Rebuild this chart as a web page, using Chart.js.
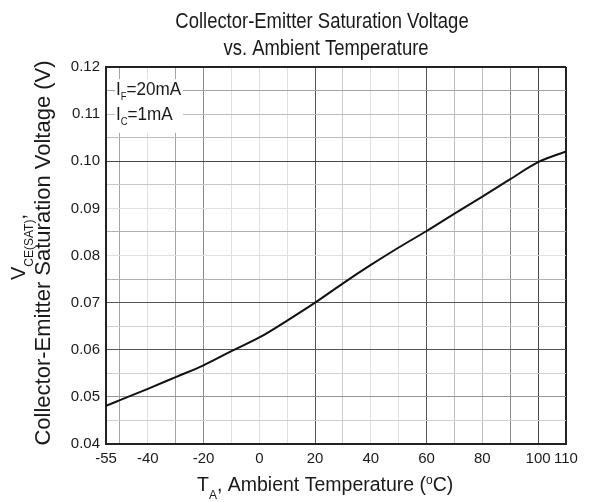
<!DOCTYPE html>
<html><head><meta charset="utf-8">
<script src="https://cdn.jsdelivr.net/npm/chart.js@4.4.1/dist/chart.umd.min.js"></script>
<style>html,body{margin:0;padding:0;background:#fff;} canvas{display:block;}</style>
</head><body>
<canvas id="c" width="592" height="502"></canvas>
<script>
// ---- data ----
const temperatures = [-55, -50, -40, -30, -20, -10, 0, 10, 20, 30, 40, 50, 60, 70, 80, 90, 100, 110];
const vceSat = [0.0481, 0.0493, 0.0517, 0.0542, 0.0567, 0.0597, 0.0626, 0.0662, 0.0700, 0.0741, 0.0780, 0.0817, 0.0852, 0.0889, 0.0925, 0.0962, 0.0998, 0.1021];
const xTickValues = [-55, -50, -40, -30, -20, -10, 0, 10, 20, 30, 40, 50, 60, 70, 80, 90, 100, 110];
const xTickLabels = ['-55', '-40', '-20', '0', '20', '40', '60', '80', '100', '110'];
const yTickValues = [0.04, 0.045, 0.05, 0.055, 0.06, 0.065, 0.07, 0.075, 0.08, 0.085, 0.09, 0.095, 0.10, 0.105, 0.11, 0.115, 0.12];
const yTickLabels = ['0.04', '0.05', '0.06', '0.07', '0.08', '0.09', '0.10', '0.11', '0.12'];
const titleLines = ['Collector-Emitter Saturation Voltage', 'vs. Ambient Temperature'];

// ---- styles ----
const FONT = '"Liberation Sans", Arial, sans-serif';
const TEXT = '#1a1a1a';
const DARK = '#555555', MED = '#a4a4a4', LIGHT = '#e0e0e0';
const xGridShade = {'-50':MED,'-40':LIGHT,'-30':MED,'-20':'#8c8c8c','-10':LIGHT,'0':LIGHT,'10':LIGHT,'20':DARK,'30':'#cccccc','40':LIGHT,'50':LIGHT,'60':DARK,'70':'#bcbcbc','80':'#bcbcbc','90':'#8c8c8c','100':'#484848'};
const yGridShade = {'115':MED,'110':'#bcbcbc','105':'#bcbcbc','100':'#484848','95':'#c8c8c8','90':LIGHT,'85':'#b0b0b0','80':LIGHT,'75':'#b0b0b0','70':DARK,'65':'#d0d0d0','60':DARK,'55':'#d0d0d0','50':'#959595','45':'#d0d0d0'};

function drawRuns(ctx, x, y, parts, align, sx) {
  sx = sx || 1;
  let total = 0;
  parts.forEach(p => { ctx.font = p.font; p.w = ctx.measureText(p.t).width; total += p.w; });
  ctx.save();
  ctx.translate(x, y);
  ctx.scale(sx, 1);
  let cx = align === 'center' ? -total / 2 : 0;
  parts.forEach(p => { ctx.font = p.font; ctx.fillText(p.t, cx, (p.dy || 0)); cx += p.w; });
  ctx.restore();
}

const textPlugin = {
  id: 'texts',
  beforeDatasetsDraw(chart) {
    const ctx = chart.ctx, a = chart.chartArea;
    ctx.save();
    ctx.fillStyle = '#ffffff';
    ctx.fillRect(a.left + 9, a.top + 12, 68, 54);
    ctx.restore();
  },
  afterDraw(chart) {
    const ctx = chart.ctx, a = chart.chartArea;
    ctx.save();
    ctx.fillStyle = TEXT;
    ctx.textAlign = 'left';
    ctx.textBaseline = 'alphabetic';
    // main title
    drawRuns(ctx, 322, 28, [{t: titleLines[0], font: '22.5px ' + FONT}], 'center', 0.82);
    drawRuns(ctx, 326, 55, [{t: titleLines[1], font: '22.5px ' + FONT}], 'center', 0.82);
    // x axis title
    drawRuns(ctx, 197, 491, [
      {t: 'T', font: '19.5px ' + FONT},
      {t: 'A', font: '12px ' + FONT, dy: 8},
      {t: ', Ambient Temperature (', font: '19.5px ' + FONT},
      {t: 'o', font: '12px ' + FONT, dy: -7},
      {t: 'C)', font: '19.5px ' + FONT}
    ], 'left');
    // y axis title
    ctx.save();
    ctx.translate(25, 280);
    ctx.rotate(-Math.PI / 2);
    drawRuns(ctx, 0, 0, [
      {t: 'V', font: '20px ' + FONT},
      {t: 'CE(SAT)', font: '12px ' + FONT, dy: 8},
      {t: ',', font: '20px ' + FONT}
    ], 'left');
    ctx.restore();
    ctx.save();
    ctx.translate(50, 253);
    ctx.rotate(-Math.PI / 2);
    drawRuns(ctx, 0, 0, [{t: 'Collector-Emitter Saturation Voltage (V)', font: '22px ' + FONT}], 'center');
    ctx.restore();
    // conditions
    drawRuns(ctx, a.left + 10, a.top + 28, [
      {t: 'I', font: '19px ' + FONT},
      {t: 'F', font: '10.5px ' + FONT, dy: 5},
      {t: '=20mA', font: '19px ' + FONT}
    ], 'left', 0.9);
    drawRuns(ctx, a.left + 10, a.top + 53, [
      {t: 'I', font: '19px ' + FONT},
      {t: 'C', font: '10.5px ' + FONT, dy: 5},
      {t: '=1mA', font: '19px ' + FONT}
    ], 'left', 0.9);
    ctx.restore();
  }
};

new Chart(document.getElementById('c'), {
  type: 'line',
  data: {
    datasets: [{
      data: temperatures.map((t, i) => ({x: t, y: vceSat[i]})),
      borderColor: '#111111',
      borderWidth: 2,
      pointRadius: 0,
      tension: 0.4,
      cubicInterpolationMode: 'monotone',
      fill: false
    }]
  },
  options: {
    responsive: false,
    animation: false,
    layout: {padding: {left: 56, right: 26, top: 67, bottom: 0}},
    plugins: {legend: {display: false}, title: {display: false}, tooltip: {enabled: false}},
    scales: {
      x: {
        type: 'linear', min: -55, max: 110,
        afterBuildTicks: s => { s.ticks = xTickValues.map(v => ({value: v})); },
        afterFit: s => { s.height = 58; },
        ticks: {
          autoSkip: false, maxRotation: 0, minRotation: 0, padding: 6, color: TEXT,
          font: {family: FONT, size: 15},
          callback: v => { const s = String(v); return xTickLabels.includes(s) ? s : ''; }
        },
        grid: {
          drawTicks: false,
          color: c => { const v = c.tick.value; if (v === 110) return '#222222'; if (v === -55) return 'rgba(0,0,0,0)'; return xGridShade[String(v)] || LIGHT; },
          lineWidth: c => (c.tick.value === 110 ? 2 : 1)
        },
        border: {display: true, color: '#222222', width: 2}
      },
      y: {
        type: 'linear', min: 0.04, max: 0.12,
        afterBuildTicks: s => { s.ticks = yTickValues.map(v => ({value: v})); },
        afterFit: s => { s.width = 50; },
        ticks: {
          autoSkip: false, padding: 6, color: TEXT,
          font: {family: FONT, size: 15},
          callback: v => { const s = v.toFixed(2); return (Math.round(v * 1000) % 10 === 0 && yTickLabels.includes(s)) ? s : ''; }
        },
        grid: {
          drawTicks: false,
          color: c => { const k = Math.round(c.tick.value * 1000); if (k === 120) return '#222222'; if (k === 40) return 'rgba(0,0,0,0)'; return yGridShade[String(k)] || LIGHT; },
          lineWidth: c => (Math.round(c.tick.value * 1000) === 120 ? 2 : 1)
        },
        border: {display: true, color: '#222222', width: 2}
      }
    }
  },
  plugins: [textPlugin]
});
</script>
</body></html>
